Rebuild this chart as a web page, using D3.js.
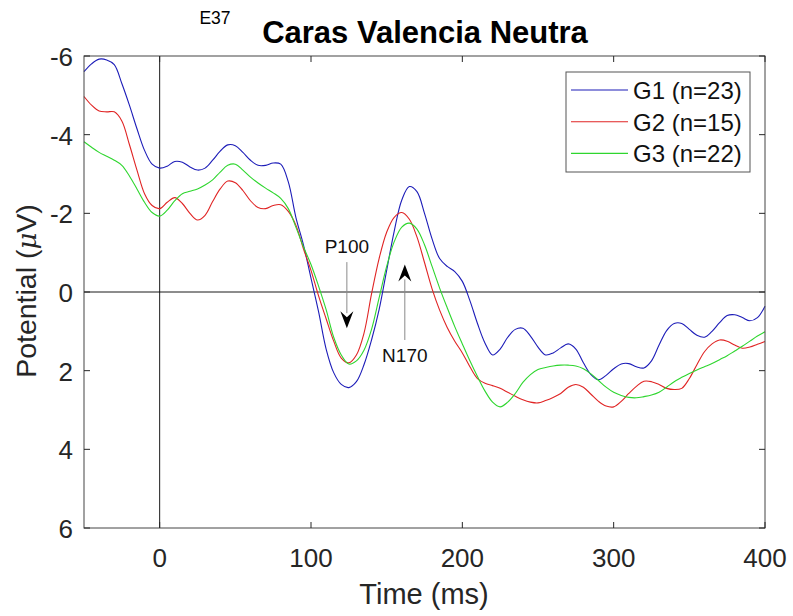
<!DOCTYPE html>
<html><head><meta charset="utf-8">
<script src="https://cdn.jsdelivr.net/npm/d3@7"></script>
<style>body{margin:0;background:#fff}svg{display:block;font-family:"Liberation Sans",Arial,sans-serif}</style>
</head><body><svg id="c" width="793" height="616"></svg>
<script>
const times = d3.range(-50, 401, 5);
const g1 = [-5.60,-5.80,-5.92,-5.90,-5.78,-5.30,-4.75,-4.15,-3.60,-3.25,-3.15,-3.20,-3.32,-3.30,-3.18,-3.10,-3.15,-3.35,-3.58,-3.74,-3.72,-3.55,-3.35,-3.22,-3.22,-3.28,-3.25,-2.80,-1.90,-1.20,-0.35,0.50,1.45,2.05,2.35,2.43,2.28,1.85,1.22,0.45,-0.55,-1.55,-2.34,-2.68,-2.55,-2.00,-1.35,-0.85,-0.65,-0.52,-0.27,0.22,0.80,1.30,1.60,1.45,1.15,0.95,0.92,1.12,1.40,1.60,1.55,1.42,1.32,1.45,1.80,2.10,2.23,2.12,1.95,1.83,1.82,1.90,1.93,1.75,1.35,0.98,0.80,0.80,0.95,1.10,1.15,1.00,0.78,0.60,0.58,0.65,0.73,0.65,0.36];
const g2 = [-4.97,-4.75,-4.60,-4.58,-4.58,-4.35,-3.75,-3.10,-2.50,-2.20,-2.12,-2.28,-2.40,-2.25,-2.00,-1.83,-1.95,-2.30,-2.62,-2.82,-2.78,-2.58,-2.32,-2.15,-2.12,-2.20,-2.22,-2.05,-1.70,-1.10,-0.55,0.10,0.68,1.25,1.68,1.80,1.60,1.05,0.05,-0.85,-1.52,-1.90,-2.02,-1.85,-1.40,-0.75,-0.08,0.46,0.90,1.25,1.55,1.90,2.20,2.32,2.38,2.45,2.55,2.65,2.74,2.80,2.82,2.76,2.68,2.58,2.42,2.35,2.42,2.60,2.78,2.90,2.92,2.78,2.58,2.40,2.27,2.28,2.35,2.45,2.48,2.45,2.20,1.85,1.52,1.32,1.22,1.25,1.35,1.43,1.40,1.33,1.26];
const g3 = [-3.82,-3.68,-3.55,-3.45,-3.35,-3.22,-2.95,-2.62,-2.28,-2.02,-1.93,-2.08,-2.32,-2.50,-2.56,-2.62,-2.72,-2.85,-3.05,-3.22,-3.25,-3.10,-2.92,-2.77,-2.64,-2.52,-2.38,-2.12,-1.65,-1.15,-0.70,-0.15,0.45,1.15,1.60,1.83,1.75,1.48,0.95,0.15,-0.65,-1.28,-1.65,-1.75,-1.60,-1.20,-0.65,-0.10,0.40,0.88,1.32,1.75,2.15,2.52,2.80,2.92,2.80,2.58,2.30,2.10,1.97,1.92,1.88,1.86,1.86,1.88,1.95,2.08,2.25,2.42,2.55,2.63,2.68,2.69,2.66,2.62,2.55,2.42,2.28,2.17,2.07,1.98,1.90,1.82,1.72,1.62,1.50,1.38,1.25,1.12,1.01];
const seriesNames = ["G1 (n=23)", "G2 (n=15)", "G3 (n=22)"];
const seriesColors = ["#1c1cb8", "#e02424", "#2ed62e"];
const xTicks = [0, 100, 200, 300, 400];
const yTicks = [-6, -4, -2, 0, 2, 4, 6];
const annotations = [
  {label: "P100", t: 123.7, from: -0.76, to: 0.92, labelY: -0.98},
  {label: "N170", t: 162, from: 1.22, to: -0.70, labelY: 1.78}
];

const svg = d3.select("#c");
const L = 84, R = 765, T = 56, B = 528;
const x = d3.scaleLinear().domain([-50, 400]).range([L, R]);
const y = d3.scaleLinear().domain([-6, 6]).range([T, B]);
const axisCol = "#262626";

// reference lines
svg.append("line").attr("x1", x(0)).attr("x2", x(0)).attr("y1", T).attr("y2", B).attr("stroke", "#000").attr("stroke-width", 0.9);
svg.append("line").attr("x1", L).attr("x2", R).attr("y1", y(0)).attr("y2", y(0)).attr("stroke", "#000").attr("stroke-width", 0.9);

// series
const line = d3.line().x((d, i) => x(times[i])).y(d => y(d)).curve(d3.curveCatmullRom.alpha(0.5));
[g1, g2, g3].forEach((s, k) => {
  svg.append("path").datum(s).attr("d", line).attr("fill", "none")
    .attr("stroke", seriesColors[k]).attr("stroke-width", 1.1);
});

// axes (ticks inward, box)
const tl = 6;
const ax = svg.append("g").attr("stroke", axisCol).attr("stroke-width", 1).attr("fill", "none");
ax.append("rect").attr("x", L).attr("y", T).attr("width", R - L).attr("height", B - T).attr("stroke", "#444");
xTicks.forEach(t => {
  ax.append("line").attr("x1", x(t)).attr("x2", x(t)).attr("y1", B).attr("y2", B - tl);
  ax.append("line").attr("x1", x(t)).attr("x2", x(t)).attr("y1", T).attr("y2", T + tl);
});
yTicks.forEach(t => {
  ax.append("line").attr("x1", L).attr("x2", L + tl).attr("y1", y(t)).attr("y2", y(t));
  ax.append("line").attr("x1", R).attr("x2", R - tl).attr("y1", y(t)).attr("y2", y(t));
});
svg.append("g").selectAll("text").data(xTicks).join("text")
  .attr("x", d => x(d)).attr("y", 567).attr("text-anchor", "middle")
  .attr("font-size", 26).attr("fill", axisCol).text(d => d);
svg.append("g").selectAll("text").data(yTicks).join("text")
  .attr("x", 73).attr("y", d => y(d) + 10).attr("text-anchor", "end")
  .attr("font-size", 26).attr("fill", axisCol).text(d => d);

// axis labels
svg.append("text").attr("x", 424).attr("y", 604).attr("text-anchor", "middle")
  .attr("font-size", 29).attr("fill", axisCol).text("Time (ms)");
const yl = svg.append("text").attr("transform", `translate(36,291) rotate(-90)`)
  .attr("text-anchor", "middle").attr("font-size", 28.5).attr("fill", axisCol);
yl.append("tspan").text("Potential (");
yl.append("tspan").attr("font-style", "italic").attr("font-family", "DejaVu Serif, serif").attr("font-size", 26).text("μ");
yl.append("tspan").text("V)");

// titles
svg.append("text").attr("x", 425).attr("y", 43).attr("text-anchor", "middle")
  .attr("font-size", 31).attr("font-weight", "bold").attr("fill", "#000").text("Caras Valencia Neutra");
svg.append("text").attr("x", 215).attr("y", 24).attr("text-anchor", "middle")
  .attr("font-size", 17.5).attr("fill", "#000").text("E37");

// annotations
annotations.forEach(a => {
  const xp = x(a.t), y0 = y(a.from), y1 = y(a.to);
  const dir = Math.sign(y1 - y0);
  const hl = 17, hw = 6.5, notch = 6;
  svg.append("line").attr("x1", xp).attr("x2", xp).attr("y1", y0).attr("y2", y1 - dir * hl + dir * 2)
    .attr("stroke", "#8a8a8a").attr("stroke-width", 1);
  const p = d3.path();
  p.moveTo(xp, y1);
  p.lineTo(xp - hw, y1 - dir * hl);
  p.lineTo(xp, y1 - dir * (hl - notch));
  p.lineTo(xp + hw, y1 - dir * hl);
  p.closePath();
  svg.append("path").attr("d", p.toString()).attr("fill", "#000");
  svg.append("text").attr("x", xp).attr("y", y(a.labelY)).attr("text-anchor", "middle")
    .attr("font-size", 19).attr("fill", "#111").text(a.label);
});

// legend
const lg = svg.append("g");
lg.append("rect").attr("x", 566).attr("y", 72).attr("width", 184).attr("height", 100)
  .attr("fill", "#fff").attr("stroke", "#555").attr("stroke-width", 1);
seriesNames.forEach((n, i) => {
  const yy = 90 + i * 31.7;
  lg.append("line").attr("x1", 571).attr("x2", 628).attr("y1", yy).attr("y2", yy)
    .attr("stroke", seriesColors[i]).attr("stroke-width", 1.1);
  lg.append("text").attr("x", 633).attr("y", yy + 9).attr("font-size", 24).attr("fill", "#111").text(n);
});
</script></body></html>
